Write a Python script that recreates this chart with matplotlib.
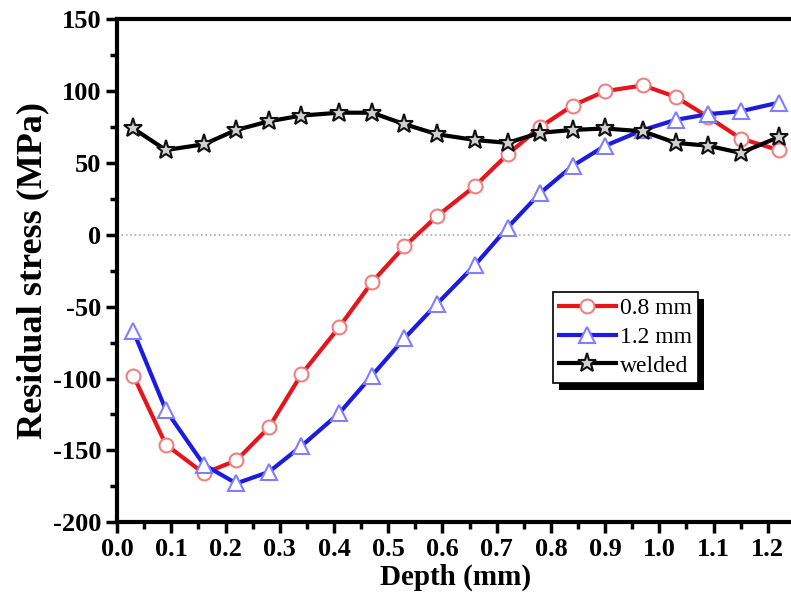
import matplotlib
matplotlib.use('Agg')
import matplotlib.pyplot as plt
import matplotlib.patheffects as pe
from matplotlib.ticker import MultipleLocator

plt.rcParams['font.family'] = ['Liberation Serif', 'DejaVu Serif']
plt.rcParams['axes.unicode_minus'] = False

# depth positions (mm)
depth = [0.03, 0.09, 0.16, 0.22, 0.28, 0.34, 0.41, 0.47, 0.53, 0.59,
         0.66, 0.72, 0.78, 0.84, 0.90, 0.97, 1.03, 1.09, 1.15, 1.22]

# residual stress (MPa)
stress_08 = [-98, -146, -166, -157, -134, -97, -64, -33, -8, 13,
             34, 56, 75, 90, 100, 104, 96, 82, 67, 59]
stress_12 = [-67, -122, -160, -173, -165, -147, -124, -98, -72, -48,
             -21, 5, 29, 48, 62, 73, 80, 84, 86, 92]
stress_welded = [74, 59, 63, 73, 79, 83, 85, 85, 77, 70,
                 66, 64, 71, 73, 74, 72, 64, 62, 57, 68]

fig = plt.figure(figsize=(7.91, 6.03), dpi=100)
ax = fig.add_axes([0.148, 0.134, 0.857, 0.834])

ax.axhline(0, color='#aaaaaa', linestyle=':', linewidth=1.2, zorder=1)

ax.plot(depth, stress_08, color='#e8141c', linewidth=3, marker='o', markersize=10,
        markerfacecolor='white', markeredgecolor='#f08080', markeredgewidth=1.5,
        label='0.8 mm', zorder=3)
ax.plot(depth, stress_12, color='#1c1ce0', linewidth=3, marker='^', markersize=11,
        markerfacecolor='white', markeredgecolor='#7f7fff', markeredgewidth=1.5,
        label='1.2 mm', zorder=3)
ax.plot(depth, stress_welded, color='black', linewidth=3, marker='*', markersize=14,
        markerfacecolor='#d0d0d0', markeredgecolor='#111111', markeredgewidth=1.5,
        label='welded', zorder=4)

ax.set_xlim(0, 1.25)
ax.set_ylim(-200, 150)
ax.xaxis.set_major_locator(MultipleLocator(0.1))
ax.xaxis.set_minor_locator(MultipleLocator(0.05))
ax.yaxis.set_major_locator(MultipleLocator(50))
ax.yaxis.set_minor_locator(MultipleLocator(25))
ax.xaxis.set_major_formatter(matplotlib.ticker.FormatStrFormatter('%.1f'))

for s in ax.spines.values():
    s.set_linewidth(3)
ax.tick_params(which='major', direction='out', length=8, width=2.5,
               labelsize=19, top=False, right=False)
ax.tick_params(which='minor', direction='out', length=5, width=2.5,
               top=False, right=False)
for lab in ax.get_xticklabels() + ax.get_yticklabels():
    lab.set_fontweight('bold')

ax.set_xlabel('Depth (mm)', fontsize=21, fontweight='bold', labelpad=2)
ax.set_ylabel('Residual stress (MPa)', fontsize=26, fontweight='bold', labelpad=2)

leg = ax.legend(loc='upper left', bbox_to_anchor=(553 / 791, 1 - 292 / 603),
                bbox_transform=fig.transFigure, fontsize=17, frameon=True,
                fancybox=False, edgecolor='black', handlelength=2.4,
                borderpad=0.25, labelspacing=0.3, handletextpad=0.2,
                borderaxespad=0, shadow=False)
frame = leg.get_frame()
frame.set_linewidth(1.2)
frame.set_alpha(1)
# thick black drop shadow below/right of the legend box
frame.set_path_effects([pe.SimplePatchShadow(offset=(4, -5), shadow_rgbFace='black', alpha=1),
                        pe.Normal()])

fig.savefig('out.png', dpi=100)
